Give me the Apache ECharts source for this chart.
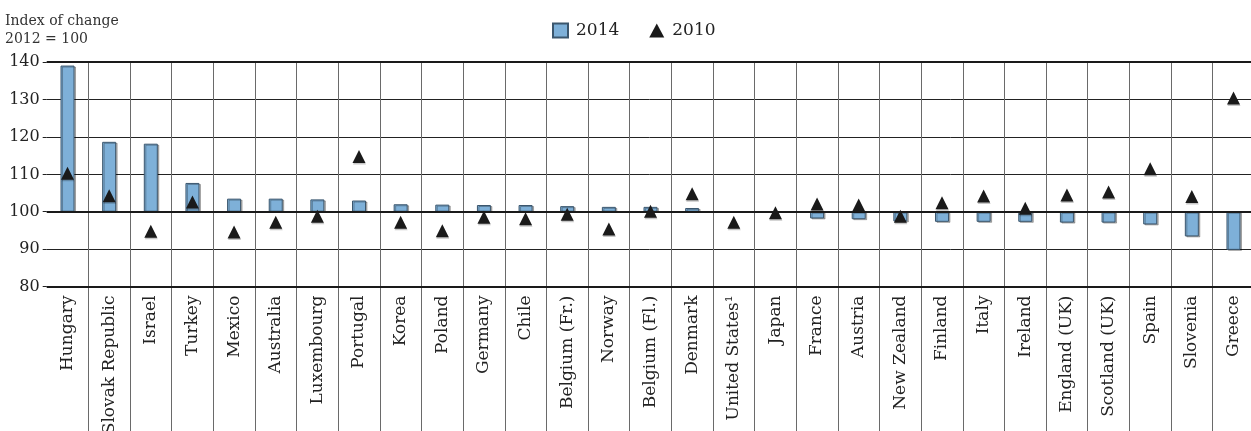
<!DOCTYPE html>
<html>
<head>
<meta charset="utf-8">
<script src="https://cdn.jsdelivr.net/npm/echarts@6/dist/echarts.min.js"></script>
<style>
  html, body { margin: 0; padding: 0; background: #fff; }
  #chart { width: 1251px; height: 431px; }
</style>
</head>
<body>
<div id="chart"></div>
<script>
// Index of change, 2012 = 100
const categories = [
  'Hungary', 'Slovak Republic', 'Israel', 'Turkey', 'Mexico', 'Australia',
  'Luxembourg', 'Portugal', 'Korea', 'Poland', 'Germany', 'Chile',
  'Belgium (Fr.)', 'Norway', 'Belgium (Fl.)', 'Denmark', 'United States¹',
  'Japan', 'France', 'Austria', 'New Zealand', 'Finland', 'Italy', 'Ireland',
  'England (UK)', 'Scotland (UK)', 'Spain', 'Slovenia', 'Greece'
];

const values2014 = [
  139.1, 118.7, 118.2, 107.7, 103.5, 103.5, 103.3, 103.0, 102.0, 101.9,
  101.8, 101.8, 101.5, 101.3, 101.3, 101.0, null, null, 98.2, 98.0,
  97.4, 97.3, 97.3, 97.3, 97.1, 97.1, 96.6, 93.4, 89.8
];

const values2010 = [
  110.3, 104.3, 94.8, 102.6, 94.6, 97.2, 98.8, 114.8, 97.2, 94.9,
  98.5, 98.1, 99.3, 95.4, 100.1, 104.8, 97.2, 99.7, 102.1, 101.8,
  98.8, 102.4, 104.2, 100.9, 104.5, 105.3, 111.5, 104.1, 130.4
];

const BASE = 100;          // bars grow up or down from the base index
const yTicks = { min: 80, max: 140, step: 10 };

const FONT = 'DejaVu Serif';
const TEXT = '#222';
const SEP = { color: '#6a6a6a', width: 1 };

const rel = v => (v == null ? null : +(v - BASE).toFixed(2));

const chart = echarts.init(document.getElementById('chart'), null, { renderer: 'canvas' });

const plotLeft = 46.7, plotRight = -3.3, plotTop = 62.2, plotBottomY = 286.5;

chart.setOption({
  animation: false,
  backgroundColor: '#fff',
  title: {
    text: 'Index of change\n2012 = 100',
    left: 5,
    top: 12,
    padding: 0,
    textStyle: {
      fontFamily: FONT,
      fontSize: 14,
      fontWeight: 'normal',
      color: '#333',
      lineHeight: 18
    }
  },
  legend: {
    left: 552,
    top: 22,
    padding: 0,
    itemWidth: 15,
    itemHeight: 14,
    itemGap: 30,
    data: [
      { name: '2014', icon: 'rect' },
      { name: '2010', icon: 'triangle' }
    ],
    textStyle: {
      fontFamily: FONT,
      fontSize: 17,
      color: TEXT,
      padding: [0, 0, 0, 3]
    }
  },
  grid: [
    // plot area
    { left: plotLeft, right: plotRight, top: plotTop, bottom: 431 - plotBottomY, outerBoundsMode: 'none' },
    // label band under the plot, carrying the column separators down
    { left: plotLeft, right: plotRight, top: plotBottomY, bottom: 0, outerBoundsMode: 'none' }
  ],
  xAxis: [
    {
      type: 'category',
      gridIndex: 0,
      data: categories,
      axisLine: { show: false },
      axisTick: { show: false },
      splitLine: { show: true, interval: 0, showMinLine: false, lineStyle: SEP },
      axisLabel: {
        rotate: 90,
        interval: 0,
        margin: 9,
        fontFamily: FONT,
        fontSize: 17,
        color: TEXT
      }
    },
    {
      type: 'category',
      gridIndex: 1,
      data: categories,
      axisLine: { show: false },
      axisTick: { show: false },
      axisLabel: { show: false },
      splitLine: { show: true, interval: 0, showMinLine: false, lineStyle: SEP }
    }
  ],
  yAxis: [
    {
      type: 'value',
      gridIndex: 0,
      min: yTicks.min - BASE,
      max: yTicks.max - BASE,
      interval: yTicks.step,
      axisLine: { show: false },
      axisTick: { show: true, length: 4, lineStyle: { color: '#222', width: 1 } },
      splitLine: { show: true, lineStyle: { color: '#222', width: 1 } },
      axisLabel: {
        formatter: v => String(v + BASE),
        margin: 7,
        fontFamily: FONT,
        fontSize: 16,
        color: TEXT
      }
    },
    {
      type: 'value',
      gridIndex: 1,
      min: 0,
      max: 1,
      show: false
    }
  ],
  series: [
    {
      name: '2014',
      type: 'bar',
      xAxisIndex: 0,
      yAxisIndex: 0,
      data: values2014.map(rel),
      barWidth: 14,
      clip: false,
      z: 2,
      itemStyle: {
        color: '#7eb0d8',
        borderColor: '#3b566d',
        borderWidth: 1,
        shadowColor: 'rgba(0,0,0,0.28)',
        shadowOffsetX: 1.5,
        shadowOffsetY: 1,
        shadowBlur: 0
      },
      markLine: {
        silent: true,
        symbol: 'none',
        z: 5,
        label: { show: false },
        lineStyle: { color: '#1a1a1a', width: 2.2, type: 'solid' },
        data: [
          { yAxis: 0 },
          { yAxis: yTicks.max - BASE },
          { yAxis: yTicks.min - BASE }
        ]
      }
    },
    {
      name: '2010',
      type: 'scatter',
      xAxisIndex: 0,
      yAxisIndex: 0,
      data: values2010.map(rel),
      symbol: 'triangle',
      symbolSize: 13,
      z: 6,
      itemStyle: {
        color: '#1a1a1a',
        opacity: 1,
        shadowColor: 'rgba(0,0,0,0.22)',
        shadowOffsetX: 0.5,
        shadowOffsetY: 1.5,
        shadowBlur: 0
      }
    }
  ]
});
</script>
</body>
</html>
